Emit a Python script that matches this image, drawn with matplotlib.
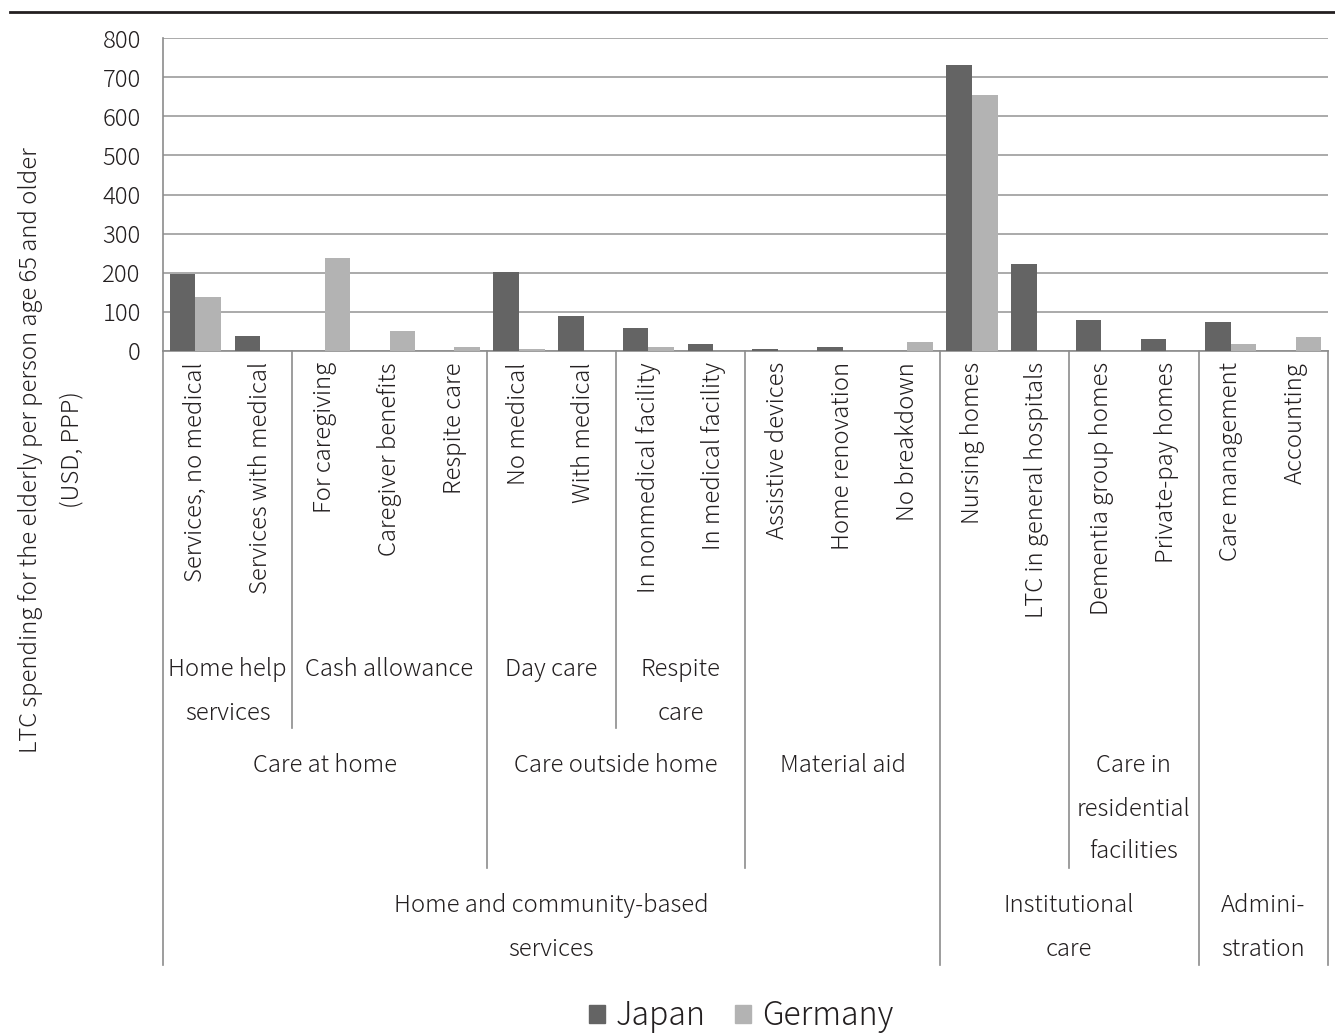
import matplotlib
matplotlib.use("Agg")
import matplotlib.pyplot as plt
import matplotlib.transforms as mtransforms
from matplotlib.lines import Line2D
from matplotlib.patches import Patch

plt.rcParams['font.family'] = ['Noto Sans CJK JP', 'DejaVu Sans']
plt.rcParams['font.weight'] = 'light'

# data
categories = [
    "Services, no medical", "Services with medical",
    "For caregiving", "Caregiver benefits", "Respite care",
    "No medical", "With medical",
    "In nonmedical facility", "In medical facility",
    "Assistive devices", "Home renovation", "No breakdown",
    "Nursing homes", "LTC in general hospitals",
    "Dementia group homes", "Private-pay homes",
    "Care management", "Accounting",
]
japan = [196, 39, 0, 0, 0, 203, 90, 59, 17, 4, 10, 0, 731, 222, 78, 30, 74, 0]
germany = [138, 0, 238, 52, 10, 4, 0, 10, 0, 0, 0, 23, 655, 0, 0, 0, 18, 36]

# category groups: (label, first index, last index)
level2 = [("Home help\nservices", 0, 1), ("Cash allowance", 2, 4),
          ("Day care", 5, 6), ("Respite\ncare", 7, 8),
          ("", 9, 11), ("", 12, 13), ("", 14, 15), ("", 16, 17)]
level3 = [("Care at home", 0, 4), ("Care outside home", 5, 8),
          ("Material aid", 9, 11), ("", 12, 13),
          ("Care in\nresidential\nfacilities", 14, 15), ("", 16, 17)]
level4 = [("Home and community-based\nservices", 0, 11),
          ("Institutional\ncare", 12, 15), ("Admini-\nstration", 16, 17)]

W, H = 1335, 1035
FS = 17.2
TXT = '#231f20'
fig = plt.figure(figsize=(W / 100, H / 100), dpi=100)


def fy(px):
    return 1 - px / H


ax = fig.add_axes([163 / W, fy(351), (1328 - 163) / W, (351 - 38) / H])

x = list(range(len(categories)))
bw = 0.395
ax.bar([i - bw / 2 for i in x], japan, width=bw, color='#646464', zorder=3)
ax.bar([i + bw / 2 for i in x], germany, width=bw, color='#b3b3b3', zorder=3)

ax.set_xlim(-0.5, len(categories) - 0.5)
ax.set_ylim(0, 800)
ax.set_yticks(range(0, 801, 100))
ax.yaxis.grid(True, color='#9c9c9c', linewidth=1.2)
ax.set_axisbelow(True)
for s in ['top', 'right', 'left']:
    ax.spines[s].set_visible(False)
ax.spines['bottom'].set_color('#8c8c8c')
ax.spines['bottom'].set_linewidth(1.2)
ax.tick_params(axis='y', length=0, pad=16, labelsize=FS, labelcolor=TXT)
ax.set_xticks(x)
ax.set_xticklabels(categories, rotation=90, fontsize=FS, color=TXT)
ax.tick_params(axis='x', length=0, pad=8)

tr = mtransforms.blended_transform_factory(ax.transData, fig.transFigure)

# separator lines in the label area
row_bottom = {2: 728, 3: 868, 4: 965}
levels = {2: level2, 3: level3, 4: level4}
ends = {}
for lv, groups in levels.items():
    for _, a, b in groups:
        ends[b + 0.5] = lv
ends[-0.5] = 4
for bx, lv in ends.items():
    fig.add_artist(Line2D([bx, bx], [fy(351), fy(row_bottom[lv])], transform=tr,
                          color='#8c8c8c', linewidth=1.2))
# left axis line (runs through label rows)
fig.add_artist(Line2D([-0.5, -0.5], [fy(38), fy(351)], transform=tr,
                      color='#8c8c8c', linewidth=1.2))

# group labels
first_line = {2: 670, 3: 766, 4: 906}
for lv, groups in levels.items():
    for label, a, b in groups:
        for k, line in enumerate(label.split("\n")):
            fig.text((a + b) / 2, fy(first_line[lv] + 43 * k), line, transform=tr,
                     ha='center', va='center', fontsize=FS, color=TXT)

# y axis title
fig.text(30 / W, fy(450), "LTC spending for the elderly per person age 65 and older",
         rotation=90, ha='center', va='center', fontsize=FS, color=TXT)
fig.text(72 / W, fy(450), "(USD, PPP)",
         rotation=90, ha='center', va='center', fontsize=FS, color=TXT)

# rule at the top
fig.add_artist(Line2D([10 / W, 1], [fy(12), fy(12)], color=TXT, linewidth=2))

handles = [Patch(color='#646464', label='Japan'), Patch(color='#b3b3b3', label='Germany')]
fig.legend(handles=handles, loc='center', bbox_to_anchor=(741 / W, fy(1016)), ncol=2,
           frameon=False, fontsize=23, handlelength=0.5, handleheight=0.5,
           handletextpad=0.35, columnspacing=0.9, labelcolor=TXT)

fig.savefig("out.png", dpi=100)
